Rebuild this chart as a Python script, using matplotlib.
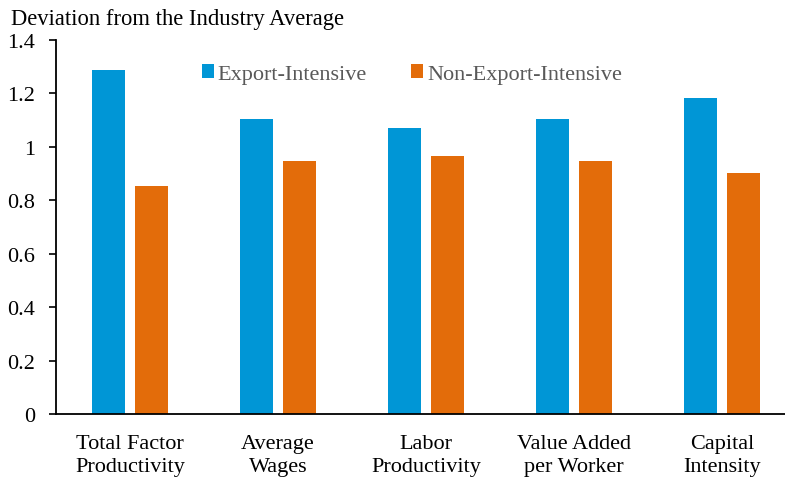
import matplotlib
matplotlib.use("Agg")
import matplotlib.pyplot as plt
import numpy as np

categories = ["Total Factor\nProductivity", "Average\nWages", "Labor\nProductivity",
              "Value Added\nper Worker", "Capital\nIntensity"]
export_intensive = [1.289, 1.104, 1.069, 1.106, 1.183]
non_export_intensive = [0.852, 0.947, 0.967, 0.948, 0.903]
yticks = [0, 0.2, 0.4, 0.6, 0.8, 1, 1.2, 1.4]
ytick_labels = ["0", "0.2", "0.4", "0.6", "0.8", "1", "1.2", "1.4"]

plt.rcParams['font.family'] = ['Liberation Serif', 'DejaVu Serif']

fig = plt.figure(figsize=(7.85, 4.85), dpi=100)
ax = fig.add_axes([55.5/785, 70/485, (785-55.5)/785, 374/485])

x = np.arange(len(categories))
w = 0.223
off = 0.145
blue = "#0096D6"
orange = "#E36C0A"
ax.bar(x - off, export_intensive, w, color=blue, label="Export-Intensive")
ax.bar(x + off, non_export_intensive, w, color=orange, label="Non-Export-Intensive")

ax.set_xlim(-0.503, 4.426)
ax.set_ylim(0, 1.4)
ax.set_yticks(yticks)
ax.set_yticklabels(ytick_labels, fontsize=16)
ax.set_xticks(x)
ax.set_xticklabels(categories, fontsize=16, linespacing=1.28)
ax.tick_params(axis='x', length=0, pad=14.5)
ax.tick_params(axis='y', length=5, width=1.2, direction='out', pad=9.5)

for s in ['top', 'right']:
    ax.spines[s].set_visible(False)
for s in ['left', 'bottom']:
    ax.spines[s].set_linewidth(1.3)

fig.text(11/785, 1 - 20/485, "Deviation from the Industry Average", fontsize=16.3,
         ha='left', va='center')

leg = ax.legend(loc='center', bbox_to_anchor=((412-55.5)/(785-55.5), (415-75)/374),
                ncol=2, frameon=False, fontsize=16, handlelength=0.54, handleheight=0.54,
                handletextpad=0.18, columnspacing=2.0, borderpad=0, borderaxespad=0)
for t in leg.get_texts():
    t.set_color("#595959")

fig.savefig("out.png", dpi=100)
